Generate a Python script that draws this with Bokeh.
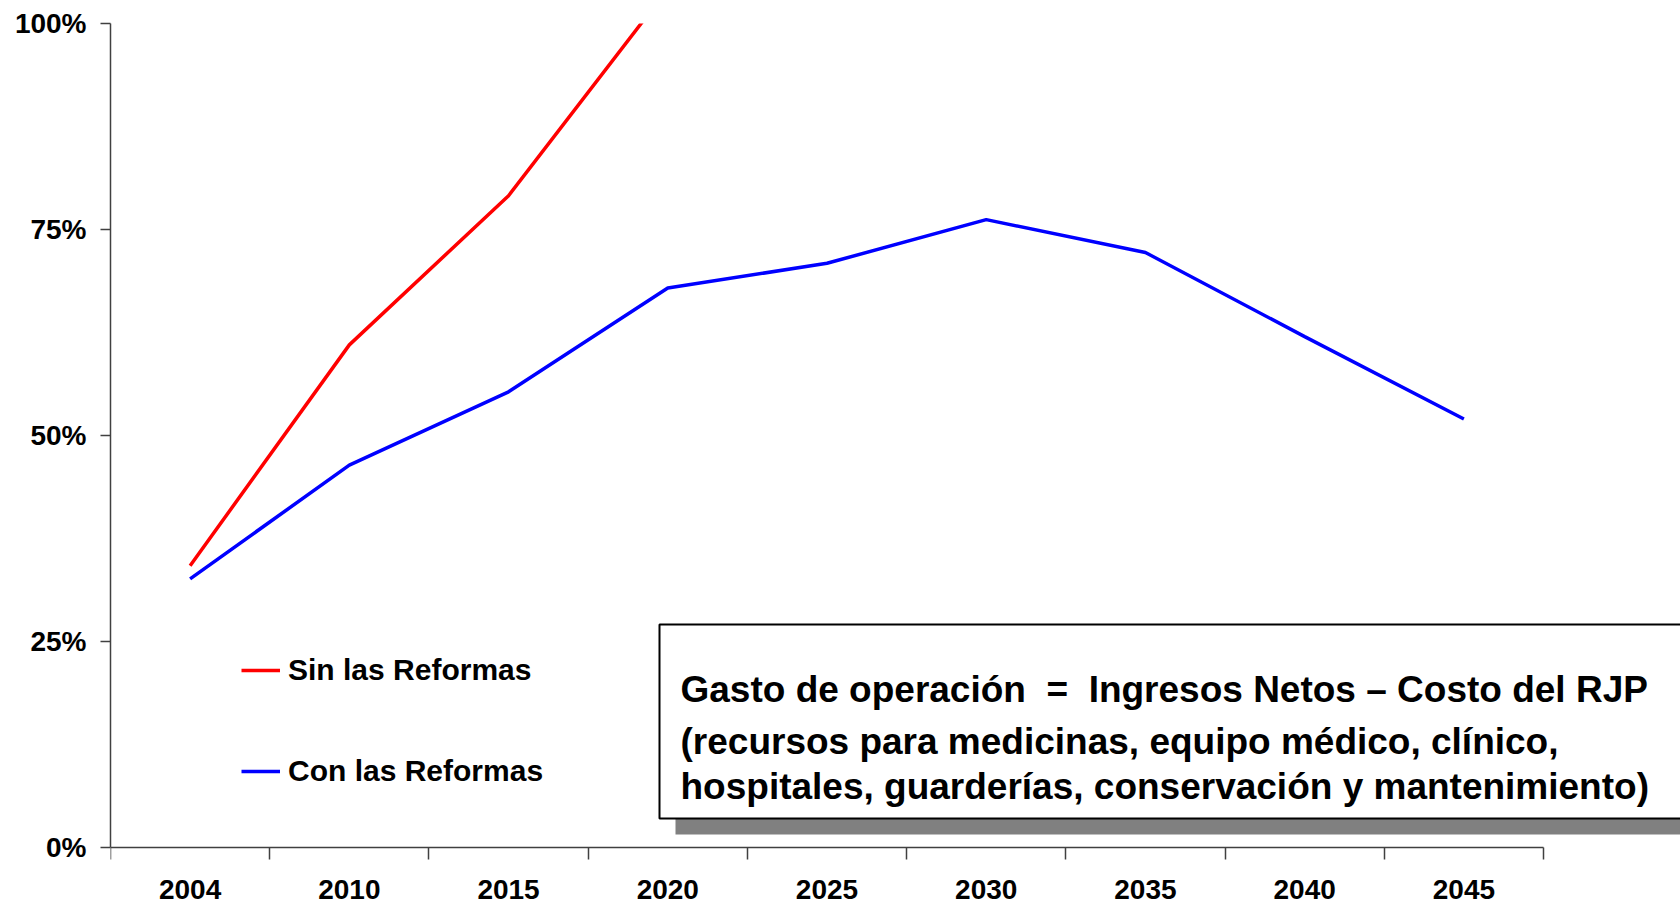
import numpy as np
from bokeh.plotting import figure
from bokeh.models import (Range1d, FixedTicker, NumeralTickFormatter, Legend, LegendItem,
                          BoxAnnotation, Label)
from bokeh.embed import file_html
from bokeh.resources import INLINE

# ---- data ----
years = ["2004", "2010", "2015", "2020", "2025", "2030", "2035", "2040", "2045"]
sin_reformas = [0.342, 0.610, 0.791, 1.042]
con_reformas = [0.326, 0.464, 0.553, 0.679, 0.709, 0.762, 0.722, 0.620, 0.520]
y_ticks = [0, 0.25, 0.5, 0.75, 1.0]
series_names = ["Sin las Reformas", "Con las Reformas"]
box_lines = [
    "Gasto de operación\u00a0\u00a0=\u00a0\u00a0Ingresos Netos – Costo del RJP",
    "(recursos para medicinas, equipo médico, clínico,",
    "hospitales, guarderías, conservación y mantenimiento)",
]

FONT = "Liberation Sans"
W, H = 1680, 906
FL, FT = 110, 23           # frame left / top
AX_R, AX_B = 1543, 847     # right end of x axis, y of x axis
n = len(years)
x_pos = np.arange(n) + 0.5

x_end = n * (W - FL) / (AX_R - FL)
y_start = -(H - AX_B) / (AX_B - FT)

p = figure(width=W, height=H, output_backend="svg", toolbar_location=None,
           x_range=Range1d(0, x_end), y_range=Range1d(y_start, 1),
           min_border_left=FL, min_border_right=0, min_border_top=FT, min_border_bottom=0)
p.outline_line_color = None
p.grid.visible = False
p.background_fill_color = "white"
p.border_fill_color = "white"

r_red = p.line(x_pos[:len(sin_reformas)], sin_reformas, line_color="#FF0000", line_width=3.5)
r_blue = p.line(x_pos, con_reformas, line_color="#0000FF", line_width=3.5)

AXC = "#404040"
# x axis at y=0: ticks at category boundaries, labels at centres
xa = p.xaxis[0]
xa.fixed_location = 0
xa.bounds = (0, n)
xa.ticker = FixedTicker(ticks=list(x_pos), minor_ticks=list(range(n + 1)))
xa.major_label_overrides = {float(x): y for x, y in zip(x_pos, years)}
xa.axis_line_color = AXC
xa.axis_line_width = 1.5
xa.minor_tick_line_color = AXC
xa.minor_tick_line_width = 1.5
xa.minor_tick_out = 12
xa.minor_tick_in = 0
xa.major_tick_out = 0
xa.major_tick_in = 0
xa.major_tick_line_color = None
xa.major_label_standoff = 20
xa.major_label_text_font = FONT
xa.major_label_text_font_style = "bold"
xa.major_label_text_font_size = "28px"
xa.major_label_text_color = "black"

ya = p.yaxis[0]
ya.bounds = (0, 1)
ya.ticker = FixedTicker(ticks=y_ticks)
ya.formatter = NumeralTickFormatter(format="0%")
ya.axis_line_color = AXC
ya.axis_line_width = 1.5
ya.major_tick_line_color = AXC
ya.major_tick_line_width = 1.5
ya.major_tick_out = 10
ya.major_tick_in = 0
ya.minor_tick_line_color = None
ya.major_label_standoff = 14
ya.major_label_text_font = FONT
ya.major_label_text_font_style = "bold"
ya.major_label_text_font_size = "28px"
ya.major_label_text_color = "black"

legend = Legend(items=[LegendItem(label=series_names[0], renderers=[r_red]),
                       LegendItem(label=series_names[1], renderers=[r_blue])],
                location=(131, H - 788), orientation="vertical",
                label_text_font=FONT, label_text_font_style="bold", label_text_font_size="30px",
                label_text_color="black", glyph_width=39, glyph_height=30, label_height=30,
                label_standoff=8, spacing=67, padding=0, margin=0,
                border_line_color=None, background_fill_alpha=0)
p.add_layout(legend, "center")

# annotation box with shadow (screen units: x from frame left, y up from frame bottom)
p.add_layout(BoxAnnotation(left=675 - FL, right=1720 - FL, bottom=H - 834, top=H - 640,
                           left_units="screen", right_units="screen",
                           bottom_units="screen", top_units="screen",
                           fill_color="#808080", fill_alpha=1, line_color=None))
p.add_layout(BoxAnnotation(left=659 - FL, right=1700 - FL, bottom=H - 818, top=H - 624,
                           left_units="screen", right_units="screen",
                           bottom_units="screen", top_units="screen",
                           fill_color="white", fill_alpha=1,
                           line_color="black", line_alpha=1, line_width=2))
for txt, yy in zip(box_lines, [689, 741, 786]):
    p.add_layout(Label(x=680 - FL, y=H - yy, x_units="screen", y_units="screen", text=txt,
                       text_font=FONT, text_font_style="bold", text_font_size="37px",
                       text_baseline="middle", text_color="black"))

open("out.html", "w").write(file_html(p, INLINE))
